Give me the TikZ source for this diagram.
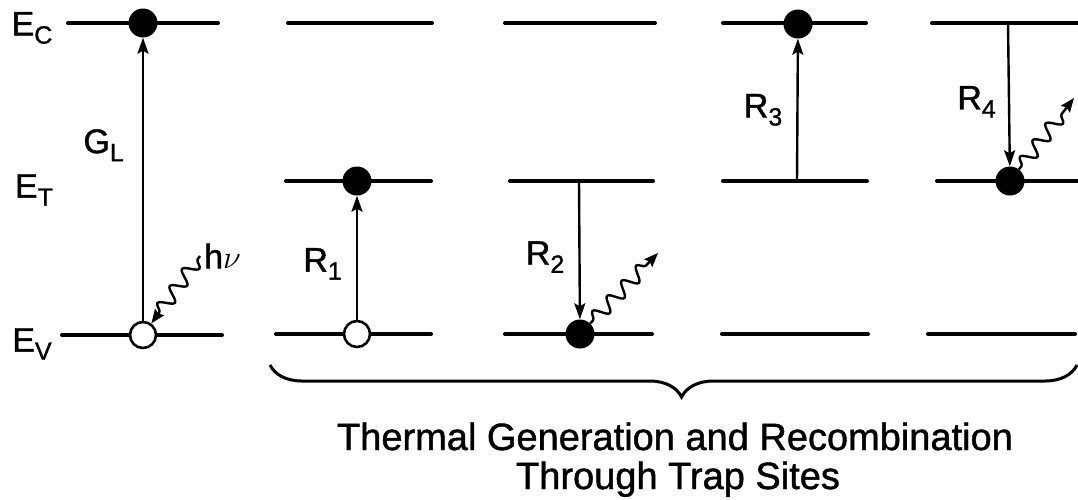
\documentclass[tikz,border=0pt]{standalone}
\usepackage{fontspec}
\setmainfont{Liberation Sans}[FakeBold=1.2]
\usetikzlibrary{arrows.meta, positioning, decorations.pathmorphing, decorations.pathreplacing}

\newcommand{\lsub}[1]{\raisebox{-0.45ex}{\fontsize{25}{25}\selectfont #1}}

\begin{document}
\begin{tikzpicture}[
    x=1pt, y=-1pt,
    level/.style={line width=4pt, line cap=round},
    elec/.style={circle, fill=black, inner sep=0pt, minimum size=29pt},
    hole/.style={circle, draw, line width=2.6pt, fill=white, inner sep=0pt, minimum size=26pt},
    ar/.style={-{Stealth[length=16pt, width=11pt, inset=3pt]}, line width=2.4pt},
    photon/.style={-{Stealth[length=14pt, width=11pt, inset=2pt]}, line width=2.4pt,
                   decorate, decoration={snake, amplitude=7pt, segment length=21pt,
                   pre length=4pt, post length=12pt}},
    lab/.style={font=\fontsize{34}{34}\selectfont, inner sep=0pt},
    caption/.style={font=\fontsize{38}{42}\selectfont, inner sep=0pt, anchor=base},
]
\useasboundingbox (0,0) rectangle (1078,499);

% energy levels
\draw[level] (68,23) -- (218,23);   \draw[level] (62,335) -- (222,335);
\draw[level] (288,23) -- (432,23);  \draw[level] (286,181) -- (431,181);
\draw[level] (276,334) -- (431,334);
\draw[level] (505,23) -- (655,23);  \draw[level] (510,181) -- (653,181);
\draw[level] (505,334) -- (652,334);
\draw[level] (723,23) -- (866,23);  \draw[level] (723,181) -- (867,181);
\draw[level] (722,334) -- (868,334);
\draw[level] (932,23) -- (1078,23); \draw[level] (937,181) -- (1078,181);
\draw[level] (928,334) -- (1075,334);

\node[lab] (ec) at (32,28) {E\lsub{C}};
\node[lab] (et) at (34,190) {E\lsub{T}};
\node[lab] (ev) at (32,344) {E\lsub{V}};

% carriers
\node[elec] (e0) at (143,23) {};
\node[hole] (h0) at (143,335) {};
\node[elec] (e1) at (357,181) {};
\node[hole] (h1) at (357,334) {};
\node[elec] (e2) at (580,334) {};
\node[elec] (e3) at (798,24) {};
\node[elec] (e4) at (1010,181) {};

\coordinate (t2) at (579,181);
\coordinate (t3) at (797,181);
\coordinate (c4) at (1008,23);
\coordinate (ph0) at (200,256);
\coordinate (ph2) at (658,253);
\coordinate (ph4) at (1074,98);

% transitions
\draw[ar] (h0) -- (e0) node[lab, pos=0.62, left=18pt] (gl) {G\lsub{L}};
\draw[ar] (h1) -- (e1) node[lab, pos=0.45, left=14pt] (r1) {R\lsub{1}};
\draw[ar] (t2) -- (e2) node[lab, pos=0.55, left=14pt] (r2) {R\lsub{2}};
\draw[ar] (t3) -- (e3) node[lab, pos=0.5, left=14pt] (r3) {R\lsub{3}};
\draw[ar] (c4) -- (e4) node[lab, pos=0.55, left=12pt] (r4) {R\lsub{4}};

% photons
\draw[photon] (ph0) -- (h0);
\node[lab, right=4pt of ph0] (hnu) {h\scalebox{1.3}{$\nu$}};
\draw[photon] (e2) -- (ph2);
\draw[photon] (e4) -- (ph4);

% brace and caption
\coordinate (brl) at (270,365);
\coordinate (brr) at (1077,365);
\draw[decorate, decoration={brace, mirror, amplitude=32pt, aspect=0.51}, line width=3pt] (brl) -- (brr);
\node[caption] (cap1) at (675,450) {Thermal Generation and Recombination};
\node[caption] (cap2) at (678,489) {Through Trap Sites};
\end{tikzpicture}
\end{document}
